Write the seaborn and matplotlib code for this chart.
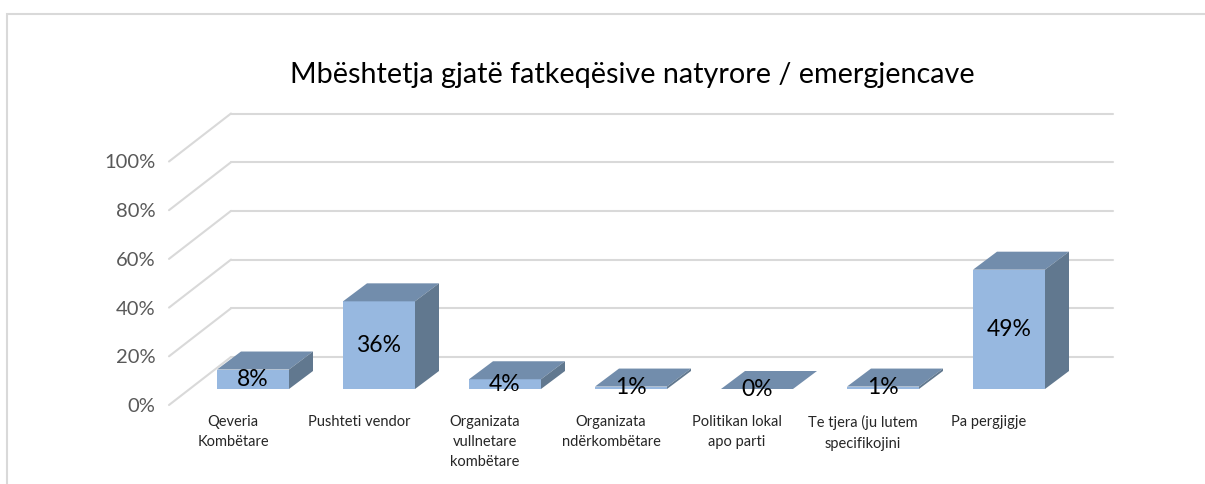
import numpy as np
import pandas as pd
import seaborn as sns
import matplotlib.pyplot as plt
from matplotlib.patches import Polygon, Rectangle
from matplotlib.transforms import ScaledTranslation

categories = ["Qeveria\nKombëtare", "Pushteti vendor", "Organizata\nvullnetare\nkombëtare",
              "Organizata\nndërkombëtare", "Politikan lokal\napo parti",
              "Te tjera (ju lutem\nspecifikojini", "Pa pergjigje"]
values = [0.08, 0.36, 0.04, 0.01, 0.00, 0.01, 0.49]
value_labels = ["8%", "36%", "4%", "1%", "0%", "1%", "49%"]
yticks = [0, 0.2, 0.4, 0.6, 0.8, 1.0]
ytick_labels = ["0%", "20%", "40%", "60%", "80%", "100%"]
title = "Mbështetja gjatë fatkeqësive natyrore / emergjencave"

sns.set_style("white")
plt.rcParams["font.family"] = ["Lato", "DejaVu Sans"]

W, H = 1205, 484
fig = plt.figure(figsize=(W / 100, H / 100), dpi=100)
# axes = front plane of the bars (pixels)
x0, x1 = 190, 1072
ybase, ytop = 389, 145.5
ax = fig.add_axes([x0 / W, (H - ybase) / H, (x1 - x0) / W, (ybase - ytop) / H])
ppx = (x1 - x0) / 7.0
ppy = (ybase - ytop) / 1.0

df = pd.DataFrame({"cat": categories, "val": values})
bar_w = 72 / ppx
sns.barplot(df, x="cat", y="val", color="#97B8E0", saturation=1, width=bar_w,
            ax=ax, zorder=3, edgecolor="none")

ax.set_xlim(-0.5, 6.5)
ax.set_ylim(0, 1)
sns.despine(ax=ax, left=True, bottom=True)

# grid: back wall + left diagonal
bdx, bdy = 41 / ppx, 32 / ppy
fdx, fdy = -21 / ppx, -16 / ppy
grid_c = "#D9D9D9"
for v in yticks:
    ax.plot([-0.5 + bdx, 6.5 + bdx], [v + bdy, v + bdy], color=grid_c, lw=1.5,
            clip_on=False, zorder=1)
    ax.plot([-0.5 + fdx, -0.5 + bdx], [v + fdy, v + bdy], color=grid_c, lw=1.5,
            clip_on=False, zorder=1)

# 3D faces of bars
ddx, ddy = 24 / ppx, 18 / ppy
for i, v in enumerate(values):
    l, r = i - bar_w / 2, i + bar_w / 2
    top = Polygon([(l, v), (r, v), (r + ddx, v + ddy), (l + ddx, v + ddy)],
                  closed=True, facecolor="#728DAC", edgecolor="none", zorder=4, clip_on=False)
    side = Polygon([(r, 0), (r, v), (r + ddx, v + ddy), (r + ddx, ddy)],
                   closed=True, facecolor="#61788F", edgecolor="none", zorder=4, clip_on=False)
    ax.add_patch(top)
    ax.add_patch(side)
    ax.text(i, v / 2, value_labels[i], ha="center", va="center", fontsize=16.5,
            color="black", zorder=6)

ax.set_xlabel("")
ax.set_ylabel("")
ax.set_yticks(yticks)
ax.set_yticklabels(ytick_labels, fontsize=14.5, color="#595959")
ax.tick_params(axis="y", length=0, pad=25)
for lab in ax.get_yticklabels():
    lab.set_transform(lab.get_transform() + ScaledTranslation(0, -0.16, fig.dpi_scale_trans))
ax.tick_params(axis="x", length=0, pad=19, labelsize=10.5)
for lab in ax.get_xticklabels():
    lab.set_linespacing(1.55)
    lab.set_transform(lab.get_transform() + ScaledTranslation(-0.2, 0, fig.dpi_scale_trans))

fig.text(632 / W, 1 - 75 / H, title, ha="center", va="center", fontsize=20.7, color="black")

fig.patches.append(Rectangle((7 / W, -0.1), 1.2, 1 - 14 / H + 0.1, transform=fig.transFigure,
                             fill=False, edgecolor="#D9D9D9", lw=1.5))

fig.savefig("out.png", dpi=100)
